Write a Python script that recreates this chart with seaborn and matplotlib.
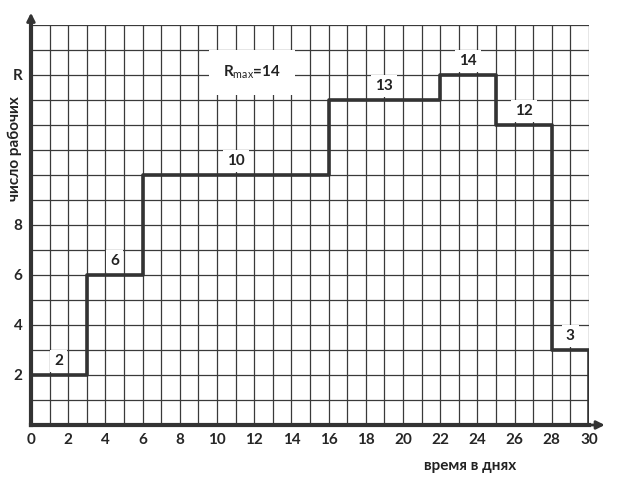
import numpy as np
import pandas as pd
import seaborn as sns
import matplotlib.pyplot as plt

# работа по интервалам (дни) и число рабочих
starts = [0, 3, 6, 16, 22, 25, 28]
ends = [3, 6, 16, 22, 25, 28, 30]
workers = [2, 6, 10, 13, 14, 12, 3]
r_max = 14

x_ticks = list(range(0, 31, 2))
y_ticks = [2, 4, 6, 8, 14]
y_tick_labels = ['2', '4', '6', '8', 'R']

sns.set_theme(style='white')
plt.rcParams['font.family'] = ['Lato', 'DejaVu Sans']
plt.rcParams['mathtext.fontset'] = 'custom'
plt.rcParams['mathtext.rm'] = 'Lato'
plt.rcParams['mathtext.bf'] = 'Lato:bold'

# step line: start of each interval, plus end point and drop to zero
step_x = starts + [ends[-1], ends[-1]]
step_y = workers + [workers[-1], 0]
df = pd.DataFrame({'day': step_x, 'r': step_y})

fig = plt.figure(figsize=(6.19, 4.8), dpi=100)
ax = fig.add_axes([0.050, 0.1146, 0.9015, 0.8334])

# grid paper
for gx in range(0, 31):
    ax.axvline(gx, color='#3a3a3a', lw=0.9, zorder=1)
for gy in range(0, 17):
    ax.axhline(gy, color='#3a3a3a', lw=0.9, zorder=1)

sns.lineplot(data=df, x='day', y='r', drawstyle='steps-post', estimator=None,
             sort=False, color='#333333', lw=2.6, ax=ax, zorder=5)

# value labels above each step
for s, e, w in zip(starts, ends, workers):
    ax.text((s + e) / 2, w + 0.55, str(w), ha='center', va='center',
            fontsize=11, fontweight='bold', color='#222222', zorder=4,
            bbox=dict(facecolor='white', edgecolor='none', pad=3))

ax.text(11.9, 14.1, r'R$_{\mathrm{max}}$=' + str(r_max),
        ha='center', va='center', fontsize=11, fontweight='bold', color='#222222', zorder=4,
        bbox=dict(facecolor='white', edgecolor='none', pad=10))

ax.set_xlim(0, 30)
ax.set_ylim(0, 16)
ax.set_xticks(x_ticks)
ax.set_xticklabels([str(t) for t in x_ticks], fontsize=11, fontweight='bold')
ax.set_yticks(y_ticks)
ax.set_yticklabels(y_tick_labels, fontsize=11, fontweight='bold')
ax.tick_params(length=0, pad=6)
ax.set_xlabel('')
ax.set_ylabel('')

for side in ['top', 'right']:
    ax.spines[side].set_visible(False)
for side in ['left', 'bottom']:
    ax.spines[side].set_linewidth(3)
    ax.spines[side].set_color('#333333')
    ax.spines[side].set_zorder(6)

# arrows on the axes
ax.annotate('', xy=(31.0, 0), xytext=(29.9, 0), annotation_clip=False,
            arrowprops=dict(arrowstyle='-|>', color='#333333', lw=2, mutation_scale=12))
ax.annotate('', xy=(0, 16.6), xytext=(0, 15.9), annotation_clip=False,
            arrowprops=dict(arrowstyle='-|>', color='#333333', lw=2, mutation_scale=12))

fig.text(0.76, 0.03, 'время в днях', ha='center', va='center',
         fontsize=11, fontweight='bold', color='#222222')
fig.text(0.024, 0.69, 'число рабочих', ha='center', va='center', rotation=90,
         fontsize=11, fontweight='bold', color='#222222')

fig.savefig('out.png', dpi=100)
